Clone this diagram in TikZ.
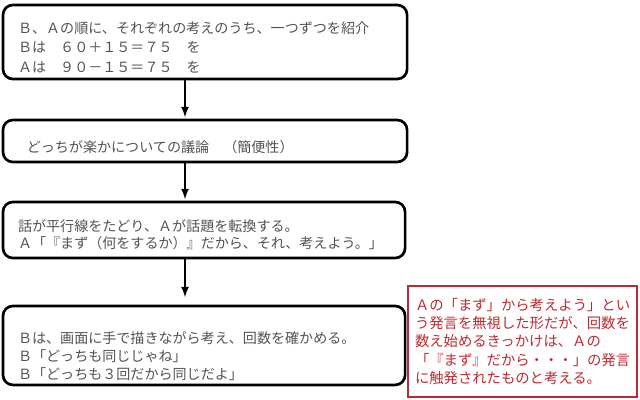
\documentclass[tikz,border=0pt]{standalone}
\usepackage{fontspec}
\newfontfamily\jp{Noto Sans CJK JP}
\usetikzlibrary{calc}

\definecolor{notered}{RGB}{190,40,48}
\newcommand\tightlines{\lineskiplimit=-10pt\relax}

\begin{document}
\begin{tikzpicture}[x=0.025cm,y=-0.025cm,
  lead/.style={font=\jp\fontsize{10pt}{#1}\selectfont\tightlines},
  drop/.style={execute at begin node={\vrule width 0pt height #1\relax}},
  box/.style={draw=black,line width=1.9pt,rounded corners=7pt,anchor=north west,
    outer sep=0pt,minimum width=10.1cm,text width=9.35cm,inner xsep=0.375cm,
    align=left,text=black!68,lead=13pt},
  flow/.style={line width=1.5pt,-latex,shorten <=1pt,shorten >=2pt}]
  \useasboundingbox (0,0) rectangle (640,400);

  \coordinate (axis) at (185,0);

  \node[box,minimum height=1.85cm,lead=14pt,drop=16pt] (intro) at (3,5)
    {Ｂ、Ａの順に、それぞれの考えのうち、一つずつを紹介\\
     Ｂは　６０＋１５＝７５　を\\
     Ａは　９０－１５＝７５　を};
  \node[box,minimum height=1.05cm,drop=18pt] (debate) at (3,120)
    {\hspace*{0.22cm}どっちが楽かについての議論　（簡便性）};
  \node[box,minimum height=1.4cm,minimum width=10.05cm,text width=9.3cm,lead=12pt,drop=15pt] (shift) at (3,202)
    {話が平行線をたどり、Ａが話題を転換する。\\
     Ａ「『まず（何をするか）』だから、それ、考えよう。」};
  \node[box,minimum height=1.95cm,minimum width=10.05cm,text width=9.3cm,lead=12.8pt,drop=23pt] (count) at (3,306)
    {Ｂは、画面に手で描きながら考え、回数を確かめる。\\
     Ｂ「どっちも同じじゃね」\\
     Ｂ「どっちも３回だから同じだよ」};

  \draw[flow] (intro.south -| axis) -- (debate.north -| axis);
  \draw[flow] (debate.south -| axis) -- (shift.north -| axis);
  \draw[flow] (shift.south -| axis) -- ($(count.north -| axis)+(0,-6)$);

  % comment on the last step
  \node[draw=notered,line width=1.4pt,anchor=north west,outer sep=0pt,
    minimum width=5.725cm,minimum height=2.775cm,text width=5.375cm,inner xsep=0.175cm,
    align=left,text=notered,font=\jp\fontsize{10.2pt}{13.1pt}\selectfont\tightlines] (note) at (408,286)
    {Ａの「まず」から考えよう」とい\\
     う発言を無視した形だが、回数を\\
     数え始めるきっかけは、Ａの\\
     「『まず』だから・・・」の発言\\
     に触発されたものと考える。};
\end{tikzpicture}
\end{document}
